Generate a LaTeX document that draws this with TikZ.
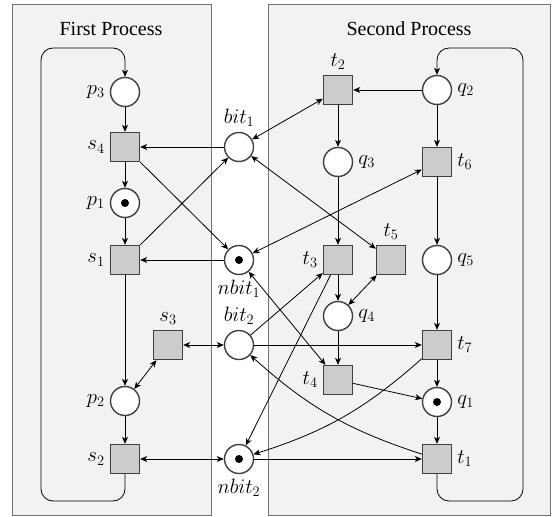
\documentclass[tikz,border=0pt]{standalone}
\usepackage[no-math]{fontspec}
\setmainfont{Liberation Serif}
\usetikzlibrary{arrows.meta,petri}
\begin{document}
\begin{tikzpicture}[x=1pt,y=-1pt,
  every node/.style={font=\fontsize{20}{24}\selectfont},
  place/.style={circle,draw=black!75,line width=1.4pt,fill=white,minimum size=29pt,inner sep=0pt},
  trans/.style={rectangle,draw=black!75,line width=1.4pt,fill=black!20,minimum size=29pt,inner sep=0pt},
  every token/.style={minimum size=8pt,inner sep=0pt,fill=black},
  procbox/.style={draw=black!55,line width=1pt,fill=black!5},
  arc/.style={-{Stealth[length=7pt,width=6pt,inset=2pt]},line width=0.8pt},
  barc/.style={{Stealth[length=7pt,width=6pt,inset=2pt]}-{Stealth[length=7pt,width=6pt,inset=2pt]},line width=0.8pt},
  every label/.style={font=\fontsize{20}{24}\selectfont,inner sep=4pt},
  label distance=1pt]
\useasboundingbox[fill=white] (0,0) rectangle (553,516);
\draw[procbox] (12,5) rectangle (211,515);
\draw[procbox] (268,5) rectangle (550,515);
\node (title1) at (111,29) {First Process};
\node (title2) at (409,29) {Second Process};
% first process
\node[place,label=left:$p_3$] (p3) at (125,92) {};
\node[trans,label=left:$s_4$] (s4) at (125,147) {};
\node[place,tokens=1,label=left:$p_1$] (p1) at (125,203) {};
\node[trans,label=left:$s_1$] (s1) at (125,260) {};
\node[place,label=left:$p_2$] (p2) at (125,401) {};
\node[trans,label=left:$s_2$] (s2) at (125,459) {};
\node[trans,label=above:$s_3$] (s3) at (168,345) {};
% shared
\node[place,label=above:$bit_1$] (bit1) at (239,147) {};
\node[place,tokens=1,label=below:$nbit_1$] (nbit1) at (239,260) {};
\node[place,label=above:$bit_2$] (bit2) at (239,345) {};
\node[place,tokens=1,label=below:$nbit_2$] (nbit2) at (239,459) {};
% second process
\node[trans,label=above:$t_2$] (t2) at (338,90) {};
\node[place,label=right:$q_2$] (q2) at (437,90) {};
\node[place,label=right:$q_3$] (q3) at (338,162) {};
\node[trans,label=right:$t_6$] (t6) at (437,162) {};
\node[trans,label=left:$t_3$] (t3) at (338,260) {};
\node[trans,label=above:$t_5$] (t5) at (391,260) {};
\node[place,label=right:$q_5$] (q5) at (437,260) {};
\node[place,label=right:$q_4$] (q4) at (338,316) {};
\node[trans,label=right:$t_7$] (t7) at (437,345) {};
\node[trans,label=left:$t_4$] (t4) at (338,380) {};
\node[place,tokens=1,label=right:$q_1$] (q1) at (437,402) {};
\node[trans,label=right:$t_1$] (t1) at (437,459) {};
% loop corners
\coordinate (lb) at (41,501);
\coordinate (lt) at (41,48);
\coordinate (rb) at (523,501);
\coordinate (rt) at (523,48);
% first process arcs
\draw[arc] (p3) -- (s4);
\draw[arc] (s4) -- (p1);
\draw[arc] (p1) -- (s1);
\draw[arc] (s1) -- (p2);
\draw[arc] (p2) -- (s2);
\draw[arc,rounded corners=12pt] (s2.south) -- (s2.south |- lb) -- (lb) -- (lt) -- (lt -| p3) -- (p3.north);
\draw[arc] (bit1) -- (s4);
\draw[arc] (s4) -- (nbit1);
\draw[arc] (s1) -- (bit1);
\draw[arc] (nbit1) -- (s1);
\draw[barc] (s3) -- (bit2);
\draw[barc] (s3) -- (p2);
\draw[barc] (s2) -- (nbit2);
% second process arcs
\draw[arc] (q2) -- (t2);
\draw[arc] (t2) -- (q3);
\draw[arc] (q2) -- (t6);
\draw[arc] (q3) -- (t3);
\draw[arc] (t6) -- (q5);
\draw[arc] (t3) -- (q4);
\draw[barc] (t5) -- (q4);
\draw[arc] (q5) -- (t7);
\draw[arc] (q4) -- (t4);
\draw[arc] (t7) -- (q1);
\draw[arc] (t4) -- (q1);
\draw[arc] (q1) -- (t1);
\draw[arc,rounded corners=12pt] (t1.south) -- (t1.south |- rb) -- (rb) -- (rt) -- (rt -| q2) -- (q2.north);
% cross arcs
\draw[barc] (t2) -- (bit1);
\draw[barc] (bit1) -- (t5);
\draw[barc] (t6) -- (nbit1);
\draw[arc] (bit2) -- (t3);
\draw[barc] (nbit1) -- (t4);
\draw[arc] (t3) -- (nbit2);
\draw[arc] (bit2) -- (t7);
\draw[arc] (t7) to[bend left=12] (nbit2);
\draw[arc] (t1) to[bend left=12] (bit2);
\draw[arc] (nbit2) -- (t1);
\end{tikzpicture}
\end{document}
